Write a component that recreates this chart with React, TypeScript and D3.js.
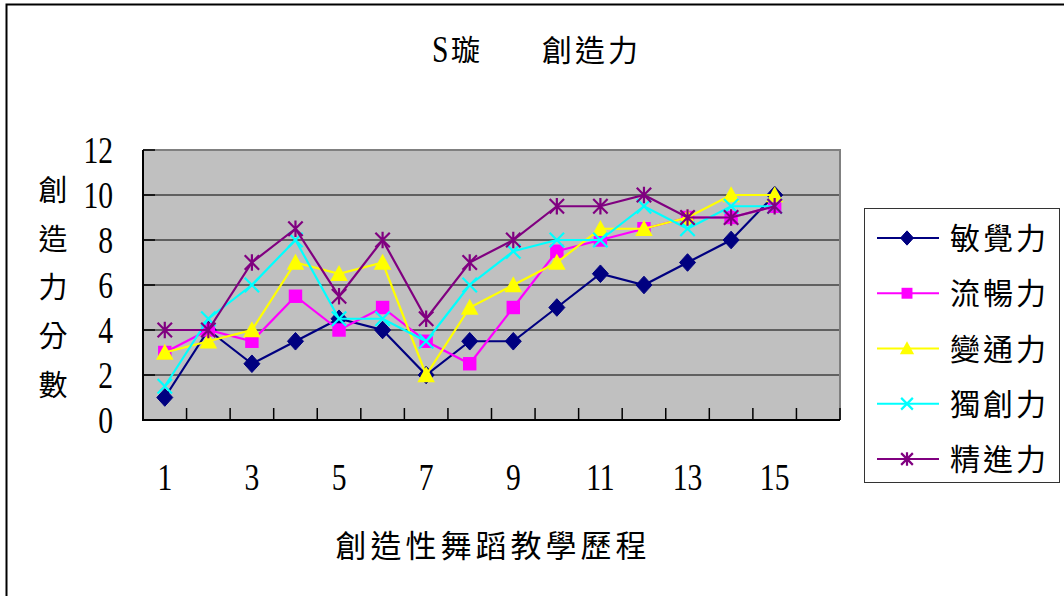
import React, { useEffect, useRef } from 'react';
import * as d3 from 'd3';

// x categories (the 16th slot is empty in the original)
const categories = ['1', '2', '3', '4', '5', '6', '7', '8', '9', '10', '11', '12', '13', '14', '15', '16'];
const tickLabels = ['1', '3', '5', '7', '9', '11', '13', '15'];
const yTicks = [0, 2, 4, 6, 8, 10, 12];

const seriesNames = ['敏覺力', '流暢力', '變通力', '獨創力', '精進力'];
const sensitivity = [1, 4, 2.5, 3.5, 4.5, 4, 2, 3.5, 3.5, 5, 6.5, 6, 7, 8, 10];
const fluency = [3, 4, 3.5, 5.5, 4, 5, 3.5, 2.5, 5, 7.5, 8, 8.5, 9, 9, 9.5];
const flexibility = [3, 3.5, 4, 7, 6.5, 7, 2, 5, 6, 7, 8.5, 8.5, 9, 10, 10];
const originality = [1.5, 4.5, 6, 8, 4.5, 4.5, 3.5, 6, 7.5, 8, 8, 9.5, 8.5, 9.5, 9.5];
const elaboration = [4, 4, 7, 8.5, 5.5, 8, 4.5, 7, 8, 9.5, 9.5, 10, 9, 9, 9.5];

const seriesColors = ['#000080', '#FF00FF', '#FFFF00', '#00FFFF', '#800080'];
const seriesMarkers = ['diamond', 'square', 'triangle', 'x', 'star'];

const CJK = '"Noto Sans CJK TC", "Noto Sans CJK SC", sans-serif';
const SERIF = '"Liberation Serif", "DejaVu Serif", serif';

const App: React.FC = () => {
  const svgRef = useRef<SVGSVGElement>(null);

  useEffect(() => {
    if (!svgRef.current) return;
    const svg = d3.select(svgRef.current);
    svg.selectAll('*').remove();

    const width = 1064;
    const height = 596;
    const plot = { left: 143, right: 840, top: 150, bottom: 420 };

    const x = d3.scaleBand<string>().domain(categories).range([plot.left, plot.right]);
    const y = d3.scaleLinear().domain([0, 12]).range([plot.bottom, plot.top]);
    const cx = (i: number) => (x(categories[i]) || 0) + x.bandwidth() / 2;

    // outer chart border (runs off the right and bottom of the picture)
    svg.append('rect')
      .attr('x', 6.5).attr('y', 4.5)
      .attr('width', width + 20).attr('height', height + 20)
      .attr('fill', '#fff')
      .attr('stroke', '#000').attr('stroke-width', 2);

    // title
    const title = svg.append('g');
    title.append('text')
      .attr('transform', 'translate(432,62) scale(0.8,1)')
      .attr('font-family', SERIF).attr('font-size', 37)
      .text('S');
    title.append('text')
      .attr('x', 451).attr('y', 61)
      .attr('font-family', CJK).attr('font-size', 29)
      .text('璇');
    title.append('text')
      .attr('x', 542).attr('y', 61)
      .attr('font-family', CJK).attr('font-size', 30)
      .attr('letter-spacing', 3)
      .text('創造力');

    // plot area
    svg.append('rect')
      .attr('x', plot.left).attr('y', plot.top)
      .attr('width', plot.right - plot.left).attr('height', plot.bottom - plot.top)
      .attr('fill', '#C0C0C0');

    svg.append('g')
      .selectAll('line')
      .data(yTicks.filter(d => d > 0 && d < 12))
      .enter()
      .append('line')
      .attr('x1', plot.left).attr('x2', plot.right)
      .attr('y1', d => y(d)).attr('y2', d => y(d))
      .attr('stroke', '#000').attr('stroke-width', 1);

    // gray frame top/right
    svg.append('path')
      .attr('d', `M${plot.left},${plot.top}H${plot.right}V${plot.bottom}`)
      .attr('fill', 'none').attr('stroke', '#808080').attr('stroke-width', 2);

    // axes
    svg.append('path')
      .attr('d', `M${plot.left},${plot.top}V${plot.bottom}H${plot.right}`)
      .attr('fill', 'none').attr('stroke', '#000').attr('stroke-width', 2);

    // inside ticks
    svg.append('g')
      .selectAll('line')
      .data(yTicks)
      .enter()
      .append('line')
      .attr('x1', plot.left).attr('x2', plot.left + 12)
      .attr('y1', d => y(d)).attr('y2', d => y(d))
      .attr('stroke', '#000').attr('stroke-width', 1.5);

    svg.append('g')
      .selectAll('line')
      .data(categories.slice(1))
      .enter()
      .append('line')
      .attr('x1', d => x(d) || 0).attr('x2', d => x(d) || 0)
      .attr('y1', plot.bottom).attr('y2', plot.bottom - 12)
      .attr('stroke', '#000').attr('stroke-width', 1.5);
    svg.append('line')
      .attr('x1', plot.right).attr('x2', plot.right)
      .attr('y1', plot.bottom).attr('y2', plot.bottom - 12)
      .attr('stroke', '#000').attr('stroke-width', 1.5);

    // tick labels
    svg.append('g')
      .selectAll('text')
      .data(yTicks)
      .enter()
      .append('text')
      .attr('transform', d => `translate(113,${y(d) + 13}) scale(0.8,1)`)
      .attr('text-anchor', 'end')
      .attr('font-family', SERIF).attr('font-size', 37)
      .text(d => String(d));

    svg.append('g')
      .selectAll('text')
      .data(tickLabels)
      .enter()
      .append('text')
      .attr('transform', d => `translate(${(x(d) || 0) + x.bandwidth() / 2},490) scale(0.8,1)`)
      .attr('text-anchor', 'middle')
      .attr('font-family', SERIF).attr('font-size', 37)
      .text(d => d);

    // axis titles
    svg.append('text')
      .attr('x', 493).attr('y', 557)
      .attr('text-anchor', 'middle')
      .attr('font-family', CJK).attr('font-size', 31)
      .attr('letter-spacing', 4)
      .text('創造性舞蹈教學歷程');

    svg.append('g')
      .selectAll('text')
      .data(['創', '造', '力', '分', '數'])
      .enter()
      .append('text')
      .attr('x', 53)
      .attr('y', (d, i) => 201 + i * 48.7)
      .attr('text-anchor', 'middle')
      .attr('font-family', CJK).attr('font-size', 29)
      .text(d => d);

    // markers
    const drawMarker = (g: d3.Selection<SVGGElement, unknown, null, undefined>, kind: string, color: string, px: number, py: number, s: number) => {
      if (kind === 'diamond') {
        g.append('path')
          .attr('d', `M${px},${py - s * 0.55}L${px + s * 0.5},${py}L${px},${py + s * 0.55}L${px - s * 0.5},${py}Z`)
          .attr('fill', color).attr('stroke', color).attr('stroke-width', 1);
      } else if (kind === 'square') {
        g.append('rect')
          .attr('x', px - s * 0.42).attr('y', py - s * 0.42)
          .attr('width', s * 0.84).attr('height', s * 0.84)
          .attr('fill', color);
      } else if (kind === 'triangle') {
        g.append('path')
          .attr('d', `M${px},${py - s * 0.55}L${px + s * 0.55},${py + s * 0.45}L${px - s * 0.55},${py + s * 0.45}Z`)
          .attr('fill', color);
      } else if (kind === 'x') {
        const h = s * 0.45;
        g.append('path')
          .attr('d', `M${px - h},${py - h}L${px + h},${py + h}M${px - h},${py + h}L${px + h},${py - h}`)
          .attr('stroke', color).attr('stroke-width', 2.2).attr('fill', 'none');
      } else {
        const h = s * 0.45;
        g.append('path')
          .attr('d', `M${px - h},${py - h}L${px + h},${py + h}M${px - h},${py + h}L${px + h},${py - h}M${px},${py - h * 1.15}V${py + h * 1.15}`)
          .attr('stroke', color).attr('stroke-width', 2.2).attr('fill', 'none');
      }
    };

    const allSeries = [sensitivity, fluency, flexibility, originality, elaboration];
    const line = d3.line<number>()
      .x((d, i) => cx(i))
      .y(d => y(d));

    allSeries.forEach((values, si) => {
      const g = svg.append('g');
      g.append('path')
        .datum(values)
        .attr('d', line)
        .attr('fill', 'none')
        .attr('stroke', seriesColors[si])
        .attr('stroke-width', 2.2);
      values.forEach((v, i) => drawMarker(g, seriesMarkers[si], seriesColors[si], cx(i), y(v), 16));
    });

    // legend
    const legend = svg.append('g');
    legend.append('rect')
      .attr('x', 864.5).attr('y', 208.5)
      .attr('width', 195).attr('height', 274)
      .attr('fill', '#fff').attr('stroke', '#333').attr('stroke-width', 1);
    seriesNames.forEach((name, i) => {
      const ly = 238 + i * 55.25;
      legend.append('line')
        .attr('x1', 877).attr('x2', 939)
        .attr('y1', ly).attr('y2', ly)
        .attr('stroke', seriesColors[i]).attr('stroke-width', 2.2);
      drawMarker(legend, seriesMarkers[i], seriesColors[i], 907, ly, 13);
      legend.append('text')
        .attr('x', 950).attr('y', ly + 11)
        .attr('font-family', CJK).attr('font-size', 30)
        .attr('letter-spacing', 3)
        .text(name);
    });
  }, []);

  return (
    <svg
      ref={svgRef}
      width={1064}
      height={596}
      style={{ position: 'absolute', left: 0, top: 0, background: '#fff' }}
    />
  );
};

export default App;
